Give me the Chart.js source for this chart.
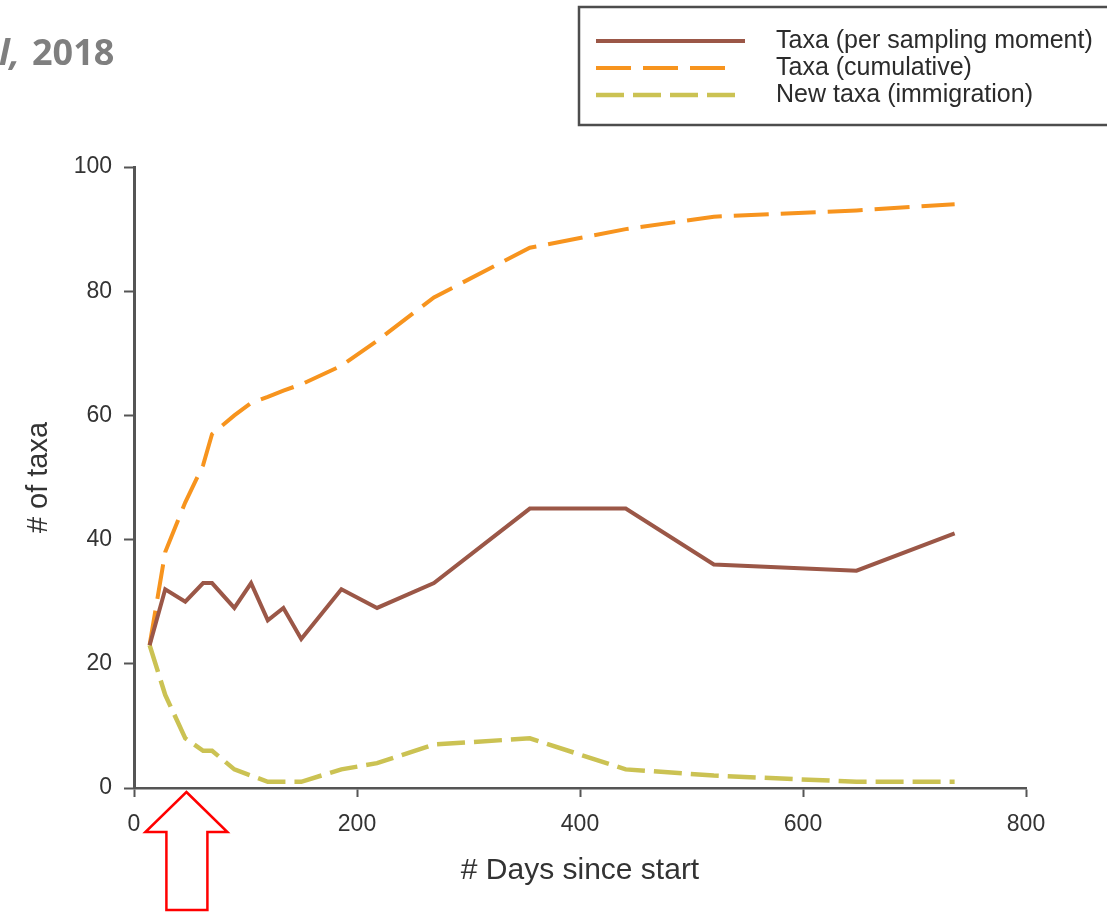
<!DOCTYPE html>
<html>
<head>
<meta charset="utf-8">
<script src="https://cdn.jsdelivr.net/npm/chart.js@4.4.1/dist/chart.umd.min.js"></script>
<style>
  body { margin: 0; background: #ffffff; }
  #taxa { display: block; }
</style>
</head>
<body>
<canvas id="taxa" width="1107" height="914"></canvas>
<script>
var days = [14, 28, 46, 62, 70, 90, 105, 120, 134, 150, 186, 218, 269, 355, 441, 520, 648, 736];
var perSample = [23, 32, 30, 33, 33, 29, 33, 27, 29, 24, 32, 29, 33, 45, 45, 36, 35, 41];
var cumulative = [23, 38, 46, 52, 57, 60, 62, 63, 64, 65, 68, 72, 79, 87, 90, 92, 93, 94];
var newTaxa = [23, 15, 8, 6, 6, 3, 2, 1, 1, 1, 3, 4, 7, 8, 3, 2, 1, 1];
var seriesNames = ["Taxa (per sampling moment)", "Taxa (cumulative)", "New taxa (immigration)"];
var xTicks = [0, 200, 400, 600, 800];
var yTicks = [0, 20, 40, 60, 80, 100];
var arrowDay = 47;

function points(vals) {
    var pts = [];
    for (var i in days) {
        pts.push({x: days[i], y: vals[i]});
    }
    return pts;
}

var fontFam = "'Liberation Sans', Arial, sans-serif";
Chart.defaults.font.family = fontFam;

// legend in a box at the top right, drawn from the datasets
var legendBox = {
    id: 'legendBox',
    afterDraw: function(chart) {
        var ctx = chart.ctx;
        ctx.save();
        ctx.strokeStyle = '#4d4d4d';
        ctx.lineWidth = 2.5;
        ctx.strokeRect(579, 7, 560, 118);
        chart.data.datasets.forEach(function(ds, i) {
            var y = 41 + i * 27;
            ctx.beginPath();
            ctx.setLineDash(ds.borderDash || []);
            ctx.strokeStyle = ds.borderColor;
            ctx.lineWidth = ds.borderWidth;
            ctx.moveTo(596, y);
            ctx.lineTo(ds.borderDash ? 735 : 745, y);
            ctx.stroke();
            ctx.setLineDash([]);
            ctx.fillStyle = '#2b2b2b';
            ctx.font = '25px ' + fontFam;
            ctx.textBaseline = 'middle';
            ctx.fillText(ds.label, 776, y);
        });
        ctx.restore();
    }
};

// cut-off citation and the red arrow below the x axis
var extras = {
    id: 'extras',
    afterDraw: function(chart) {
        var ctx = chart.ctx;
        ctx.save();
        ctx.fillStyle = '#7f7f7f';
        ctx.textBaseline = 'alphabetic';
        ctx.textAlign = 'right';
        ctx.font = "italic bold 36px 'Open Sans', " + fontFam;
        ctx.fillText('l,', 20, 65);
        ctx.textAlign = 'left';
        ctx.font = "bold 36px 'Open Sans', " + fontFam;
        ctx.fillText('2018', 32, 65);

        var x = chart.scales.x.getPixelForValue(arrowDay);
        var top = chart.chartArea.bottom + 4;
        ctx.beginPath();
        ctx.moveTo(x, top);
        ctx.lineTo(x + 41, top + 40);
        ctx.lineTo(x + 21, top + 40);
        ctx.lineTo(x + 21, top + 118);
        ctx.lineTo(x - 20, top + 118);
        ctx.lineTo(x - 20, top + 40);
        ctx.lineTo(x - 41, top + 40);
        ctx.closePath();
        ctx.fillStyle = '#ffffff';
        ctx.fill();
        ctx.strokeStyle = '#ff0000';
        ctx.lineWidth = 2.5;
        ctx.stroke();
        ctx.restore();
    }
};

var ctx = document.getElementById("taxa").getContext('2d');
var myChart = new Chart(ctx, {
    type: 'line',
    data: {
        datasets: [{
            label: seriesNames[0],
            data: points(perSample),
            borderColor: '#9b5747',
            borderWidth: 4
        }, {
            label: seriesNames[1],
            data: points(cumulative),
            borderColor: '#f7941e',
            borderWidth: 4,
            borderDash: [35, 12]
        }, {
            label: seriesNames[2],
            data: points(newTaxa),
            borderColor: '#cbc253',
            borderWidth: 4.5,
            borderDash: [28, 9]
        }]
    },
    options: {
        responsive: false,
        animation: false,
        layout: { padding: { top: 167, right: 81, left: 0, bottom: 0 } },
        elements: { point: { radius: 0 }, line: { tension: 0 } },
        plugins: { legend: { display: false }, tooltip: { enabled: false } },
        scales: {
            x: {
                type: 'linear',
                min: xTicks[0],
                max: xTicks[xTicks.length - 1],
                afterBuildTicks: function(s) { s.ticks = xTicks.map(function(v) { return {value: v}; }); },
                ticks: { color: '#333333', font: { size: 23 }, padding: 14 },
                grid: { drawOnChartArea: false, tickLength: 9, tickColor: '#555555', tickWidth: 2 },
                border: { color: '#555555', width: 2.5 },
                title: { display: true, text: '# Days since start', color: '#333333', font: { size: 30 }, padding: { top: 0, bottom: 25 } },
                afterFit: function(s) { s.height = 126; }
            },
            y: {
                min: yTicks[0],
                max: yTicks[yTicks.length - 1],
                afterBuildTicks: function(s) { s.ticks = yTicks.map(function(v) { return {value: v}; }); },
                ticks: { color: '#333333', font: { size: 23 }, padding: 12 },
                grid: { drawOnChartArea: false, tickLength: 10, tickColor: '#555555', tickWidth: 2 },
                border: { color: '#555555', width: 3 },
                title: { display: true, text: '# of taxa', color: '#333333', font: { size: 29 }, padding: { top: 22, bottom: 0 } },
                afterFit: function(s) { s.width = 134; }
            }
        }
    },
    plugins: [legendBox, extras]
});
</script>
</body>
</html>
